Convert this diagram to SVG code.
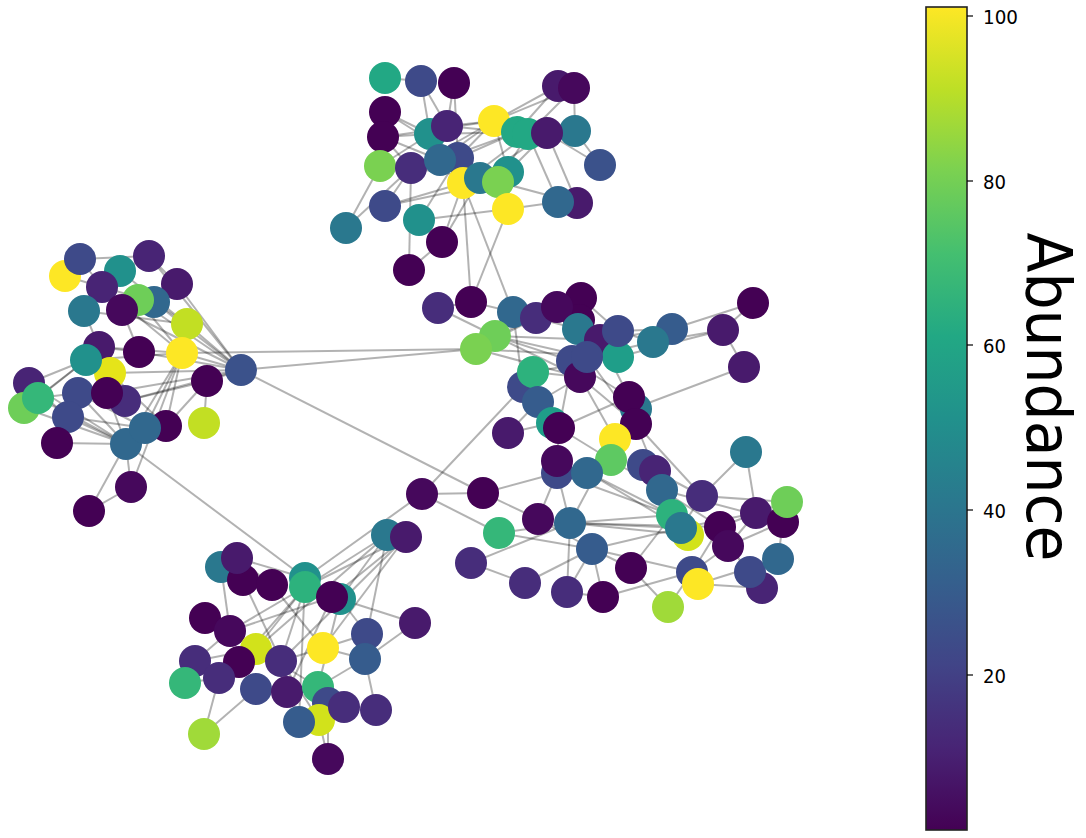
<svg xmlns="http://www.w3.org/2000/svg" width="1086" height="838" viewBox="0 0 1086 838">
<defs>
<linearGradient id="viridis" x1="0" y1="1" x2="0" y2="0">
<stop offset="0" stop-color="#440154"/><stop offset="0.1" stop-color="#482475"/><stop offset="0.2" stop-color="#414487"/><stop offset="0.3" stop-color="#355f8d"/><stop offset="0.4" stop-color="#2a788e"/><stop offset="0.5" stop-color="#21918c"/><stop offset="0.6" stop-color="#22a884"/><stop offset="0.7" stop-color="#44bf70"/><stop offset="0.8" stop-color="#7ad151"/><stop offset="0.9" stop-color="#bddf26"/><stop offset="1" stop-color="#fde725"/>
</linearGradient>
<style>
.e line{stroke:#000;stroke-opacity:.3;stroke-width:2}
circle{r:16px}
.d0{fill:#440154}.d1{fill:#46085c}.p1{fill:#481a6c}.p2{fill:#482475}.p3{fill:#472d7b}
.b1{fill:#3e4a89}.b2{fill:#3b528b}.b3{fill:#365c8d}.b4{fill:#31688e}
.t1{fill:#2a788e}.t2{fill:#21918c}.t3{fill:#1f9e89}
.g1{fill:#22a884}.g2{fill:#2db27d}.g3{fill:#35b779}.g4{fill:#5ec962}.g5{fill:#6ece58}.g6{fill:#7ad151}
.y1{fill:#a0da39}.y2{fill:#c2df23}.y3{fill:#d2e21b}.y4{fill:#e5e419}.y5{fill:#fde725}
.tk{font-family:"DejaVu Sans","Liberation Sans",sans-serif;font-size:20px;fill:#000}
</style>
</defs>
<rect width="1086" height="838" fill="#fff"/>
<g id="edges" class="e">
<line x1="385" y1="78" x2="421" y2="81"/><line x1="421" y1="81" x2="430" y2="134"/><line x1="421" y1="81" x2="447" y2="126"/><line x1="454" y1="83" x2="447" y2="126"/><line x1="454" y1="83" x2="458" y2="158"/><line x1="385" y1="112" x2="430" y2="134"/><line x1="385" y1="112" x2="458" y2="158"/><line x1="383" y1="137" x2="440" y2="160"/><line x1="383" y1="137" x2="494" y2="121"/><line x1="383" y1="137" x2="430" y2="134"/><line x1="383" y1="137" x2="411" y2="168"/><line x1="380" y1="166" x2="346" y2="228"/><line x1="380" y1="166" x2="430" y2="134"/><line x1="380" y1="166" x2="458" y2="158"/><line x1="411" y1="168" x2="409" y2="270"/><line x1="411" y1="168" x2="494" y2="121"/><line x1="411" y1="168" x2="385" y2="206"/><line x1="411" y1="168" x2="480" y2="178"/><line x1="385" y1="206" x2="463" y2="183"/><line x1="419" y1="220" x2="508" y2="209"/><line x1="419" y1="220" x2="458" y2="158"/><line x1="508" y1="209" x2="558" y2="202"/><line x1="442" y1="242" x2="480" y2="178"/><line x1="442" y1="242" x2="463" y2="183"/><line x1="409" y1="270" x2="442" y2="242"/><line x1="463" y1="183" x2="471" y2="302"/><line x1="463" y1="183" x2="513" y2="312"/><line x1="508" y1="209" x2="471" y2="302"/><line x1="494" y1="121" x2="558" y2="86"/><line x1="494" y1="121" x2="574" y2="88"/><line x1="517" y1="132" x2="558" y2="86"/><line x1="528" y1="134" x2="574" y2="88"/><line x1="574" y1="88" x2="575" y2="131"/><line x1="575" y1="131" x2="600" y2="165"/><line x1="547" y1="133" x2="600" y2="165"/><line x1="528" y1="134" x2="558" y2="202"/><line x1="547" y1="133" x2="577" y2="203"/><line x1="547" y1="133" x2="508" y2="172"/><line x1="528" y1="134" x2="463" y2="183"/><line x1="517" y1="132" x2="440" y2="160"/><line x1="494" y1="121" x2="440" y2="160"/><line x1="494" y1="121" x2="458" y2="158"/><line x1="447" y1="126" x2="494" y2="121"/><line x1="447" y1="126" x2="528" y2="134"/><line x1="430" y1="134" x2="517" y2="132"/><line x1="458" y1="158" x2="517" y2="132"/><line x1="480" y1="178" x2="547" y2="133"/><line x1="498" y1="182" x2="528" y2="134"/><line x1="508" y1="172" x2="494" y2="121"/><line x1="440" y1="160" x2="463" y2="183"/><line x1="430" y1="134" x2="480" y2="178"/><line x1="346" y1="228" x2="411" y2="168"/><line x1="498" y1="182" x2="577" y2="203"/><line x1="385" y1="206" x2="498" y2="182"/>
<line x1="65" y1="276" x2="80" y2="259"/><line x1="80" y1="259" x2="149" y2="256"/><line x1="80" y1="259" x2="102" y2="287"/><line x1="65" y1="276" x2="102" y2="287"/><line x1="149" y1="256" x2="120" y2="271"/><line x1="149" y1="256" x2="177" y2="284"/><line x1="177" y1="284" x2="138" y2="300"/><line x1="84" y1="311" x2="99" y2="347"/><line x1="84" y1="311" x2="187" y2="324"/><line x1="122" y1="310" x2="139" y2="352"/><line x1="102" y1="287" x2="182" y2="353"/><line x1="138" y1="300" x2="182" y2="353"/><line x1="154" y1="302" x2="187" y2="324"/><line x1="86" y1="360" x2="29" y2="383"/><line x1="86" y1="360" x2="38" y2="398"/><line x1="86" y1="360" x2="182" y2="353"/><line x1="99" y1="347" x2="182" y2="353"/><line x1="29" y1="383" x2="68" y2="417"/><line x1="38" y1="398" x2="78" y2="393"/><line x1="107" y1="393" x2="126" y2="444"/><line x1="78" y1="393" x2="126" y2="444"/><line x1="68" y1="417" x2="126" y2="444"/><line x1="68" y1="417" x2="145" y2="428"/><line x1="57" y1="443" x2="126" y2="444"/><line x1="78" y1="393" x2="145" y2="428"/><line x1="125" y1="401" x2="207" y2="381"/><line x1="110" y1="373" x2="241" y2="370"/><line x1="182" y1="353" x2="126" y2="444"/><line x1="182" y1="353" x2="145" y2="428"/><line x1="182" y1="353" x2="166" y2="426"/><line x1="182" y1="353" x2="131" y2="487"/><line x1="126" y1="444" x2="131" y2="487"/><line x1="126" y1="444" x2="89" y2="511"/><line x1="131" y1="487" x2="89" y2="511"/><line x1="207" y1="381" x2="204" y2="423"/><line x1="166" y1="426" x2="207" y2="381"/><line x1="57" y1="443" x2="68" y2="417"/><line x1="24" y1="408" x2="126" y2="444"/><line x1="38" y1="398" x2="126" y2="444"/><line x1="29" y1="383" x2="126" y2="444"/><line x1="24" y1="408" x2="86" y2="360"/><line x1="241" y1="370" x2="177" y2="284"/><line x1="241" y1="370" x2="149" y2="256"/><line x1="241" y1="370" x2="138" y2="300"/><line x1="241" y1="370" x2="122" y2="310"/><line x1="241" y1="370" x2="154" y2="302"/><line x1="241" y1="370" x2="139" y2="352"/><line x1="241" y1="370" x2="182" y2="353"/><line x1="241" y1="370" x2="187" y2="324"/><line x1="241" y1="370" x2="107" y2="393"/><line x1="241" y1="370" x2="125" y2="401"/><line x1="241" y1="370" x2="207" y2="381"/><line x1="120" y1="271" x2="187" y2="324"/><line x1="102" y1="287" x2="154" y2="302"/><line x1="99" y1="347" x2="139" y2="352"/><line x1="110" y1="373" x2="166" y2="426"/>
<line x1="126" y1="444" x2="305" y2="578"/><line x1="305" y1="578" x2="422" y2="494"/><line x1="241" y1="370" x2="483" y2="493"/><line x1="241" y1="370" x2="476" y2="349"/><line x1="182" y1="353" x2="476" y2="349"/>
<line x1="438" y1="308" x2="495" y2="336"/><line x1="471" y1="302" x2="513" y2="312"/><line x1="438" y1="308" x2="471" y2="302"/><line x1="476" y1="349" x2="513" y2="312"/><line x1="476" y1="349" x2="557" y2="307"/><line x1="495" y1="336" x2="600" y2="340"/><line x1="476" y1="349" x2="618" y2="357"/><line x1="476" y1="349" x2="580" y2="377"/><line x1="495" y1="336" x2="580" y2="377"/><line x1="495" y1="336" x2="587" y2="357"/><line x1="495" y1="336" x2="572" y2="361"/><line x1="495" y1="336" x2="536" y2="318"/><line x1="513" y1="312" x2="523" y2="387"/><line x1="513" y1="312" x2="581" y2="298"/><line x1="536" y1="318" x2="578" y2="329"/><line x1="557" y1="307" x2="578" y2="329"/><line x1="581" y1="298" x2="618" y2="331"/><line x1="533" y1="372" x2="580" y2="377"/><line x1="533" y1="372" x2="618" y2="357"/><line x1="538" y1="402" x2="580" y2="377"/><line x1="508" y1="433" x2="552" y2="423"/><line x1="559" y1="428" x2="629" y2="397"/><line x1="559" y1="428" x2="611" y2="460"/><line x1="559" y1="428" x2="557" y2="462"/><line x1="635" y1="408" x2="744" y2="367"/><line x1="753" y1="303" x2="723" y2="330"/><line x1="723" y1="330" x2="744" y2="367"/><line x1="672" y1="329" x2="753" y2="303"/><line x1="653" y1="342" x2="723" y2="330"/><line x1="618" y1="357" x2="723" y2="330"/><line x1="672" y1="329" x2="618" y2="331"/><line x1="587" y1="357" x2="636" y2="424"/><line x1="580" y1="377" x2="636" y2="424"/><line x1="572" y1="361" x2="629" y2="397"/><line x1="600" y1="340" x2="629" y2="397"/><line x1="611" y1="460" x2="587" y2="472"/><line x1="611" y1="460" x2="615" y2="439"/><line x1="636" y1="424" x2="655" y2="471"/><line x1="636" y1="424" x2="702" y2="496"/><line x1="746" y1="452" x2="702" y2="496"/><line x1="746" y1="452" x2="756" y2="513"/><line x1="523" y1="387" x2="422" y2="494"/><line x1="538" y1="402" x2="508" y2="433"/><line x1="533" y1="372" x2="523" y2="387"/><line x1="572" y1="361" x2="559" y2="428"/><line x1="578" y1="329" x2="618" y2="357"/><line x1="618" y1="331" x2="653" y2="342"/><line x1="587" y1="357" x2="653" y2="342"/><line x1="580" y1="377" x2="615" y2="439"/><line x1="600" y1="340" x2="672" y2="329"/><line x1="578" y1="329" x2="580" y2="377"/><line x1="557" y1="307" x2="587" y2="357"/>
<line x1="422" y1="494" x2="483" y2="493"/><line x1="422" y1="494" x2="499" y2="533"/><line x1="483" y1="493" x2="538" y2="519"/><line x1="483" y1="493" x2="557" y2="473"/><line x1="499" y1="533" x2="570" y2="523"/><line x1="499" y1="533" x2="592" y2="549"/><line x1="538" y1="519" x2="557" y2="473"/><line x1="538" y1="519" x2="592" y2="549"/><line x1="570" y1="523" x2="558" y2="475"/><line x1="570" y1="523" x2="567" y2="592"/><line x1="570" y1="523" x2="672" y2="515"/><line x1="570" y1="523" x2="681" y2="528"/><line x1="570" y1="523" x2="720" y2="527"/><line x1="570" y1="523" x2="688" y2="535"/><line x1="570" y1="523" x2="615" y2="439"/><line x1="592" y1="549" x2="525" y2="583"/><line x1="592" y1="549" x2="567" y2="592"/><line x1="592" y1="549" x2="603" y2="597"/><line x1="592" y1="549" x2="681" y2="528"/><line x1="592" y1="549" x2="631" y2="568"/><line x1="592" y1="549" x2="692" y2="572"/><line x1="603" y1="597" x2="692" y2="572"/><line x1="471" y1="563" x2="525" y2="583"/><line x1="471" y1="563" x2="570" y2="523"/><line x1="631" y1="568" x2="668" y2="607"/><line x1="631" y1="568" x2="672" y2="515"/><line x1="668" y1="607" x2="692" y2="572"/><line x1="702" y1="496" x2="681" y2="528"/><line x1="756" y1="513" x2="787" y2="502"/><line x1="756" y1="513" x2="783" y2="522"/><line x1="756" y1="513" x2="728" y2="546"/><line x1="756" y1="513" x2="720" y2="527"/><line x1="783" y1="522" x2="778" y2="559"/><line x1="783" y1="522" x2="728" y2="546"/><line x1="778" y1="559" x2="750" y2="572"/><line x1="750" y1="572" x2="728" y2="546"/><line x1="762" y1="588" x2="698" y2="584"/><line x1="728" y1="546" x2="692" y2="572"/><line x1="720" y1="527" x2="692" y2="572"/><line x1="662" y1="490" x2="720" y2="527"/><line x1="662" y1="490" x2="611" y2="460"/><line x1="643" y1="465" x2="672" y2="515"/><line x1="587" y1="472" x2="672" y2="515"/><line x1="587" y1="472" x2="681" y2="528"/><line x1="557" y1="473" x2="672" y2="515"/><line x1="655" y1="471" x2="702" y2="496"/><line x1="662" y1="490" x2="783" y2="522"/><line x1="681" y1="528" x2="756" y2="513"/><line x1="702" y1="496" x2="787" y2="502"/><line x1="698" y1="584" x2="778" y2="559"/><line x1="567" y1="592" x2="603" y2="597"/>
<line x1="387" y1="535" x2="340" y2="599"/><line x1="406" y1="537" x2="332" y2="597"/><line x1="406" y1="537" x2="323" y2="648"/><line x1="387" y1="535" x2="305" y2="587"/><line x1="387" y1="535" x2="256" y2="649"/><line x1="387" y1="535" x2="367" y2="634"/><line x1="406" y1="537" x2="305" y2="587"/><line x1="406" y1="537" x2="281" y2="661"/><line x1="221" y1="567" x2="230" y2="631"/><line x1="237" y1="558" x2="272" y2="585"/><line x1="243" y1="580" x2="281" y2="661"/><line x1="272" y1="585" x2="323" y2="648"/><line x1="305" y1="587" x2="256" y2="649"/><line x1="305" y1="587" x2="239" y2="662"/><line x1="305" y1="587" x2="281" y2="661"/><line x1="237" y1="558" x2="305" y2="578"/><line x1="340" y1="599" x2="318" y2="687"/><line x1="340" y1="599" x2="415" y2="623"/><line x1="365" y1="659" x2="415" y2="623"/><line x1="230" y1="631" x2="305" y2="587"/><line x1="195" y1="661" x2="230" y2="631"/><line x1="185" y1="683" x2="219" y2="678"/><line x1="219" y1="678" x2="204" y2="734"/><line x1="204" y1="734" x2="256" y2="689"/><line x1="256" y1="689" x2="287" y2="692"/><line x1="281" y1="661" x2="323" y2="648"/><line x1="323" y1="648" x2="367" y2="634"/><line x1="323" y1="648" x2="365" y2="659"/><line x1="365" y1="659" x2="376" y2="710"/><line x1="328" y1="703" x2="328" y2="759"/><line x1="319" y1="720" x2="328" y2="759"/><line x1="281" y1="661" x2="319" y2="720"/><line x1="281" y1="661" x2="299" y2="722"/><line x1="287" y1="692" x2="318" y2="687"/><line x1="318" y1="687" x2="344" y2="707"/><line x1="367" y1="634" x2="340" y2="599"/><line x1="365" y1="659" x2="318" y2="687"/><line x1="205" y1="618" x2="256" y2="649"/><line x1="230" y1="631" x2="332" y2="597"/><line x1="256" y1="649" x2="318" y2="687"/><line x1="305" y1="578" x2="299" y2="722"/><line x1="332" y1="597" x2="287" y2="692"/><line x1="243" y1="580" x2="221" y2="567"/><line x1="195" y1="661" x2="256" y2="649"/>
</g>
<g id="nodes">
<g id="n1"><circle class="g1" cx="385" cy="78"/></g>
<g id="n2"><circle class="b1" cx="421" cy="81"/></g>
<g id="n3"><circle class="d0" cx="454" cy="83"/></g>
<g id="n4"><circle class="d0" cx="385" cy="112"/></g>
<g id="n5"><circle class="d0" cx="383" cy="137"/></g>
<g id="n6"><circle class="t2" cx="430" cy="134"/></g>
<g id="n7"><circle class="p2" cx="447" cy="126"/></g>
<g id="n8"><circle class="p1" cx="558" cy="86"/></g>
<g id="n9"><circle class="d1" cx="574" cy="88"/></g>
<g id="n10"><circle class="y5" cx="494" cy="121"/></g>
<g id="n11"><circle class="g1" cx="517" cy="132"/></g>
<g id="n12"><circle class="g1" cx="528" cy="134"/></g>
<g id="n13"><circle class="t1" cx="575" cy="131"/></g>
<g id="n14"><circle class="p1" cx="547" cy="133"/></g>
<g id="n15"><circle class="b2" cx="600" cy="165"/></g>
<g id="n16"><circle class="g6" cx="380" cy="166"/></g>
<g id="n17"><circle class="p3" cx="411" cy="168"/></g>
<g id="n18"><circle class="b1" cx="458" cy="158"/></g>
<g id="n19"><circle class="b4" cx="440" cy="160"/></g>
<g id="n20"><circle class="y5" cx="463" cy="183"/></g>
<g id="n21"><circle class="t2" cx="508" cy="172"/></g>
<g id="n22"><circle class="t1" cx="480" cy="178"/></g>
<g id="n23"><circle class="g6" cx="498" cy="182"/></g>
<g id="n24"><circle class="y5" cx="508" cy="209"/></g>
<g id="n25"><circle class="p1" cx="577" cy="203"/></g>
<g id="n26"><circle class="b4" cx="558" cy="202"/></g>
<g id="n27"><circle class="b1" cx="385" cy="206"/></g>
<g id="n28"><circle class="t2" cx="419" cy="220"/></g>
<g id="n29"><circle class="t1" cx="346" cy="228"/></g>
<g id="n30"><circle class="d0" cx="442" cy="242"/></g>
<g id="n31"><circle class="d0" cx="409" cy="270"/></g>
<g id="n32"><circle class="y5" cx="65" cy="276"/></g>
<g id="n33"><circle class="b1" cx="80" cy="259"/></g>
<g id="n34"><circle class="t2" cx="120" cy="271"/></g>
<g id="n35"><circle class="p2" cx="149" cy="256"/></g>
<g id="n36"><circle class="p2" cx="102" cy="287"/></g>
<g id="n37"><circle class="p1" cx="177" cy="284"/></g>
<g id="n38"><circle class="b4" cx="154" cy="302"/></g>
<g id="n39"><circle class="g5" cx="138" cy="300"/></g>
<g id="n40"><circle class="t1" cx="84" cy="311"/></g>
<g id="n41"><circle class="d1" cx="122" cy="310"/></g>
<g id="n42"><circle class="y2" cx="187" cy="324"/></g>
<g id="n43"><circle class="p1" cx="99" cy="347"/></g>
<g id="n44"><circle class="d0" cx="139" cy="352"/></g>
<g id="n45"><circle class="y5" cx="182" cy="353"/></g>
<g id="n46"><circle class="y4" cx="110" cy="373"/></g>
<g id="n47"><circle class="t2" cx="86" cy="360"/></g>
<g id="n48"><circle class="d0" cx="207" cy="381"/></g>
<g id="n49"><circle class="b2" cx="241" cy="370"/></g>
<g id="n50"><circle class="p2" cx="29" cy="383"/></g>
<g id="n51"><circle class="g5" cx="24" cy="408"/></g>
<g id="n52"><circle class="g3" cx="38" cy="398"/></g>
<g id="n53"><circle class="p3" cx="125" cy="401"/></g>
<g id="n54"><circle class="b1" cx="78" cy="393"/></g>
<g id="n55"><circle class="d0" cx="107" cy="393"/></g>
<g id="n56"><circle class="b1" cx="68" cy="417"/></g>
<g id="n57"><circle class="d0" cx="166" cy="426"/></g>
<g id="n58"><circle class="y2" cx="204" cy="423"/></g>
<g id="n59"><circle class="b4" cx="126" cy="444"/></g>
<g id="n60"><circle class="b4" cx="145" cy="428"/></g>
<g id="n61"><circle class="d0" cx="57" cy="443"/></g>
<g id="n62"><circle class="d1" cx="131" cy="487"/></g>
<g id="n63"><circle class="d0" cx="89" cy="511"/></g>
<g id="n64"><circle class="p3" cx="438" cy="308"/></g>
<g id="n65"><circle class="d0" cx="471" cy="302"/></g>
<g id="n66"><circle class="b4" cx="513" cy="312"/></g>
<g id="n67"><circle class="p3" cx="536" cy="318"/></g>
<g id="n68"><circle class="d0" cx="581" cy="298"/></g>
<g id="n69"><circle class="d0" cx="579" cy="320"/></g>
<g id="n70"><circle class="d1" cx="557" cy="307"/></g>
<g id="n71"><circle class="t1" cx="578" cy="329"/></g>
<g id="n72"><circle class="g5" cx="495" cy="336"/></g>
<g id="n73"><circle class="g6" cx="476" cy="349"/></g>
<g id="n74"><circle class="p1" cx="600" cy="340"/></g>
<g id="n75"><circle class="t3" cx="618" cy="357"/></g>
<g id="n76"><circle class="b1" cx="618" cy="331"/></g>
<g id="n77"><circle class="b3" cx="672" cy="329"/></g>
<g id="n78"><circle class="t1" cx="653" cy="342"/></g>
<g id="n79"><circle class="p1" cx="723" cy="330"/></g>
<g id="n80"><circle class="d0" cx="753" cy="303"/></g>
<g id="n81"><circle class="p1" cx="744" cy="367"/></g>
<g id="n82"><circle class="b1" cx="572" cy="361"/></g>
<g id="n83"><circle class="d1" cx="580" cy="377"/></g>
<g id="n84"><circle class="b1" cx="587" cy="357"/></g>
<g id="n85"><circle class="b1" cx="523" cy="387"/></g>
<g id="n86"><circle class="g2" cx="533" cy="372"/></g>
<g id="n87"><circle class="b3" cx="538" cy="402"/></g>
<g id="n88"><circle class="t1" cx="636" cy="409"/></g>
<g id="n89"><circle class="d0" cx="629" cy="397"/></g>
<g id="n90"><circle class="t3" cx="552" cy="423"/></g>
<g id="n91"><circle class="d0" cx="559" cy="428"/></g>
<g id="n92"><circle class="d0" cx="636" cy="424"/></g>
<g id="n93"><circle class="p1" cx="508" cy="433"/></g>
<g id="n94"><circle class="y5" cx="615" cy="439"/></g>
<g id="n95"><circle class="b1" cx="557" cy="473"/></g>
<g id="n96"><circle class="d1" cx="557" cy="461"/></g>
<g id="n97"><circle class="g4" cx="611" cy="460"/></g>
<g id="n98"><circle class="b4" cx="587" cy="473"/></g>
<g id="n99"><circle class="b1" cx="643" cy="465"/></g>
<g id="n100"><circle class="p2" cx="655" cy="471"/></g>
<g id="n101"><circle class="t1" cx="746" cy="452"/></g>
<g id="n102"><circle class="d1" cx="422" cy="494"/></g>
<g id="n103"><circle class="d0" cx="483" cy="493"/></g>
<g id="n104"><circle class="g3" cx="499" cy="533"/></g>
<g id="n105"><circle class="d1" cx="538" cy="519"/></g>
<g id="n106"><circle class="b4" cx="570" cy="523"/></g>
<g id="n107"><circle class="b3" cx="592" cy="549"/></g>
<g id="n108"><circle class="b4" cx="662" cy="490"/></g>
<g id="n109"><circle class="p3" cx="702" cy="496"/></g>
<g id="n110"><circle class="g2" cx="672" cy="515"/></g>
<g id="n111"><circle class="y3" cx="688" cy="535"/></g>
<g id="n112"><circle class="t1" cx="681" cy="528"/></g>
<g id="n113"><circle class="d0" cx="720" cy="527"/></g>
<g id="n114"><circle class="d1" cx="728" cy="546"/></g>
<g id="n115"><circle class="p1" cx="756" cy="513"/></g>
<g id="n116"><circle class="d0" cx="783" cy="522"/></g>
<g id="n117"><circle class="g5" cx="787" cy="502"/></g>
<g id="n118"><circle class="p2" cx="762" cy="588"/></g>
<g id="n119"><circle class="b1" cx="750" cy="572"/></g>
<g id="n120"><circle class="b4" cx="778" cy="559"/></g>
<g id="n121"><circle class="b1" cx="692" cy="572"/></g>
<g id="n122"><circle class="y5" cx="698" cy="584"/></g>
<g id="n123"><circle class="y1" cx="668" cy="607"/></g>
<g id="n124"><circle class="d0" cx="631" cy="568"/></g>
<g id="n125"><circle class="d0" cx="603" cy="597"/></g>
<g id="n126"><circle class="p3" cx="567" cy="592"/></g>
<g id="n127"><circle class="p3" cx="525" cy="583"/></g>
<g id="n128"><circle class="p3" cx="471" cy="563"/></g>
<g id="n129"><circle class="p1" cx="415" cy="623"/></g>
<g id="n130"><circle class="t1" cx="387" cy="535"/></g>
<g id="n131"><circle class="p1" cx="406" cy="537"/></g>
<g id="n132"><circle class="t1" cx="221" cy="567"/></g>
<g id="n133"><circle class="d0" cx="243" cy="580"/></g>
<g id="n134"><circle class="p1" cx="237" cy="558"/></g>
<g id="n135"><circle class="d0" cx="272" cy="585"/></g>
<g id="n136"><circle class="t2" cx="305" cy="578"/></g>
<g id="n137"><circle class="g2" cx="305" cy="587"/></g>
<g id="n138"><circle class="t2" cx="340" cy="599"/></g>
<g id="n139"><circle class="d0" cx="332" cy="597"/></g>
<g id="n140"><circle class="d0" cx="205" cy="618"/></g>
<g id="n141"><circle class="d1" cx="230" cy="631"/></g>
<g id="n142"><circle class="y3" cx="256" cy="649"/></g>
<g id="n143"><circle class="y5" cx="323" cy="648"/></g>
<g id="n144"><circle class="b1" cx="367" cy="634"/></g>
<g id="n145"><circle class="b3" cx="365" cy="659"/></g>
<g id="n146"><circle class="p3" cx="195" cy="661"/></g>
<g id="n147"><circle class="d0" cx="239" cy="662"/></g>
<g id="n148"><circle class="p3" cx="281" cy="661"/></g>
<g id="n149"><circle class="g3" cx="185" cy="683"/></g>
<g id="n150"><circle class="p3" cx="219" cy="678"/></g>
<g id="n151"><circle class="b1" cx="256" cy="689"/></g>
<g id="n152"><circle class="p1" cx="287" cy="692"/></g>
<g id="n153"><circle class="g3" cx="318" cy="687"/></g>
<g id="n154"><circle class="b1" cx="328" cy="703"/></g>
<g id="n155"><circle class="y3" cx="319" cy="720"/></g>
<g id="n156"><circle class="p3" cx="344" cy="707"/></g>
<g id="n157"><circle class="p3" cx="376" cy="710"/></g>
<g id="n158"><circle class="b3" cx="299" cy="722"/></g>
<g id="n159"><circle class="y1" cx="204" cy="734"/></g>
<g id="n160"><circle class="d1" cx="328" cy="759"/></g>
</g>
<g id="colorbar">
<rect x="926" y="7" width="41" height="823" fill="url(#viridis)" stroke="#222" stroke-width="1.6"/>
<g stroke="#000" stroke-width="1.2">
<line x1="967" y1="16" x2="973" y2="16"/><line x1="967" y1="181" x2="973" y2="181"/><line x1="967" y1="345" x2="973" y2="345"/><line x1="967" y1="510" x2="973" y2="510"/><line x1="967" y1="675" x2="973" y2="675"/>
</g>
<text class="tk" x="983" y="23.5" textLength="35" lengthAdjust="spacingAndGlyphs">100</text>
<text class="tk" x="983" y="188.5" textLength="23" lengthAdjust="spacingAndGlyphs">80</text>
<text class="tk" x="983" y="352.5" textLength="23" lengthAdjust="spacingAndGlyphs">60</text>
<text class="tk" x="983" y="517.5" textLength="23" lengthAdjust="spacingAndGlyphs">40</text>
<text class="tk" x="983" y="682.5" textLength="23" lengthAdjust="spacingAndGlyphs">20</text>
<text x="1027" y="397" transform="rotate(90 1027 397)" text-anchor="middle" font-family="DejaVu Sans, Liberation Sans, sans-serif" font-size="62" textLength="329" lengthAdjust="spacingAndGlyphs" fill="#000">Abundance</text>
</g>
</svg>
